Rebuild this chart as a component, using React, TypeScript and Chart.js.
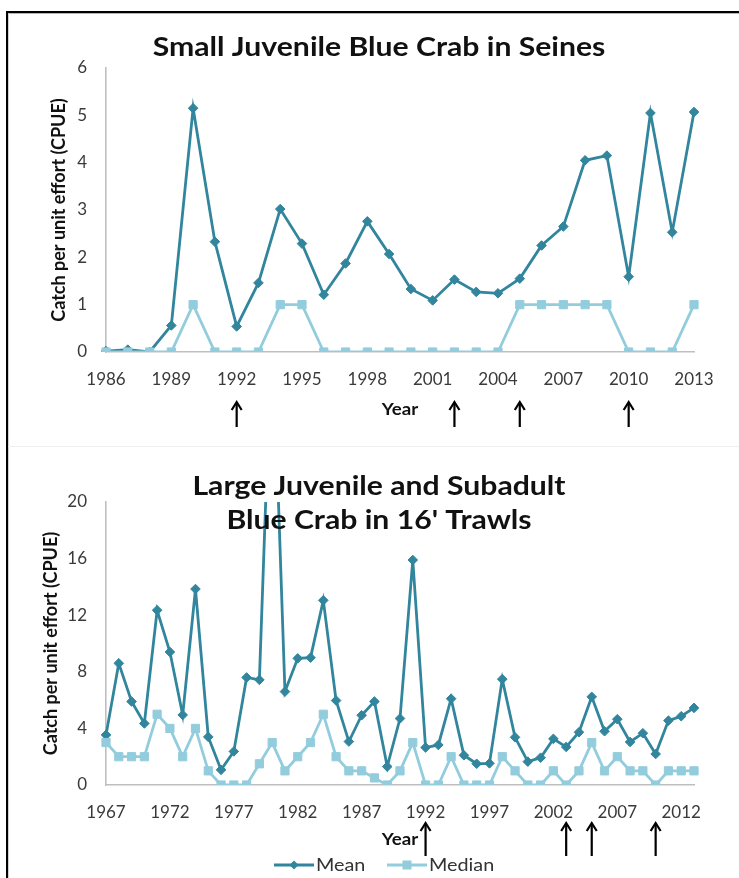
import { useEffect, useRef } from 'react';
import { Chart, registerables } from 'chart.js';

Chart.register(...registerables);

// ---- Small juvenile blue crab, seine survey ----
const seineYears = [
  '1986', '1987', '1988', '1989', '1990', '1991', '1992', '1993', '1994', '1995',
  '1996', '1997', '1998', '1999', '2000', '2001', '2002', '2003', '2004', '2005',
  '2006', '2007', '2008', '2009', '2010', '2011', '2012', '2013',
];
const seineMean = [
  0.02, 0.05, 0.0, 0.56, 5.15, 2.33, 0.54, 1.46, 3.02, 2.29,
  1.21, 1.87, 2.76, 2.07, 1.33, 1.09, 1.53, 1.27, 1.24, 1.55,
  2.25, 2.65, 4.05, 4.15, 1.59, 5.05, 2.53, 5.07,
];
const seineMedian = [
  0, 0, 0, 0, 1, 0, 0, 0, 1, 1,
  0, 0, 0, 0, 0, 0, 0, 0, 0, 1,
  1, 1, 1, 1, 0, 0, 0, 1,
];
const seineArrowYears = ['1992', '2002', '2005', '2010'];
const seineYTicks = { max: 6, step: 1 };

// ---- Large juvenile and subadult blue crab, 16' trawl survey ----
const trawlYears = [
  '1967', '1968', '1969', '1970', '1971', '1972', '1973', '1974', '1975', '1976',
  '1977', '1978', '1979', '1980', '1981', '1982', '1983', '1984', '1985', '1986',
  '1987', '1988', '1989', '1990', '1991', '1992', '1993', '1994', '1995', '1996',
  '1997', '1998', '1999', '2000', '2001', '2002', '2003', '2004', '2005', '2006',
  '2007', '2008', '2009', '2010', '2011', '2012', '2013',
];
const trawlMean = [
  3.54, 8.6, 5.9, 4.35, 12.35, 9.4, 4.95, 13.85, 3.4, 1.07,
  2.37, 7.6, 7.43, 33.0, 6.6, 8.95, 9.0, 13.05, 5.97, 3.07,
  4.93, 5.9, 1.3, 4.7, 15.9, 2.65, 2.83, 6.1, 2.1, 1.5,
  1.53, 7.48, 3.37, 1.65, 1.93, 3.26, 2.69, 3.73, 6.23, 3.8,
  4.65, 3.04, 3.66, 2.19, 4.55, 4.86, 5.45,
];
const trawlMedian = [
  3, 2, 2, 2, 5, 4, 2, 4, 1, 0,
  0, 0, 1.5, 3, 1, 2, 3, 5, 2, 1,
  1, 0.5, 0, 1, 3, 0, 0, 2, 0, 0,
  0, 2, 1, 0, 0, 1, 0, 1, 3, 1,
  2, 1, 1, 0, 1, 1, 1,
];
const trawlArrowYears = ['1992', '2003', '2005', '2010'];
const trawlYTicks = { max: 20, step: 4 };

const seriesNames = ['Mean', 'Median'];

const MEAN_COLOR = '#31859C';
const MEDIAN_COLOR = '#93CDDD';
const AXIS_COLOR = '#BFBFBF';
const TICK_COLOR = '#3a3a3a';
const FONT = 'Lato, "Open Sans", "DejaVu Sans", sans-serif';
const TEXT_STRETCH = 1.16;

function stretchedText(
  ctx: CanvasRenderingContext2D,
  text: string,
  x: number,
  y: number,
  font: string,
  color: string,
  sx: number,
  align: CanvasTextAlign = 'center',
) {
  ctx.save();
  ctx.font = font;
  ctx.fillStyle = color;
  ctx.textAlign = align;
  ctx.textBaseline = 'middle';
  ctx.translate(x, y);
  ctx.scale(sx, 1);
  ctx.fillText(text, 0, 0);
  ctx.restore();
}

function drawArrow(ctx: CanvasRenderingContext2D, x: number, top: number, bottom: number) {
  ctx.save();
  ctx.strokeStyle = '#000';
  ctx.lineWidth = 2.2;
  ctx.lineCap = 'butt';
  ctx.beginPath();
  ctx.moveTo(x, top + 1);
  ctx.lineTo(x, bottom);
  ctx.stroke();
  ctx.beginPath();
  ctx.moveTo(x - 5, top + 8);
  ctx.lineTo(x, top);
  ctx.lineTo(x + 5, top + 8);
  ctx.stroke();
  ctx.restore();
}

function drawDiamond(ctx: CanvasRenderingContext2D, x: number, y: number, r: number, color: string) {
  ctx.beginPath();
  ctx.moveTo(x, y - r);
  ctx.lineTo(x + r, y);
  ctx.lineTo(x, y + r);
  ctx.lineTo(x - r, y);
  ctx.closePath();
  ctx.fillStyle = color;
  ctx.fill();
}

type Decor = {
  years: string[];
  titleLines: string[];
  titleX: number;
  titleY: number[];
  yTitleX: number;
  xTitleY: number;
  arrowYears: string[];
  arrowTop: number;
  arrowBottom: number;
  legendY?: number;
  legendX?: number[];
};

function decorPlugin(d: Decor) {
  return {
    id: 'panelDecor',
    afterDraw(chart: any) {
      const ctx: CanvasRenderingContext2D = chart.ctx;
      const a = chart.chartArea;
      const xScale = chart.scales.x;

      d.titleLines.forEach((t, i) =>
        stretchedText(ctx, t, d.titleX, d.titleY[i], `bold 26px ${FONT}`, '#111', TEXT_STRETCH),
      );

      ctx.save();
      ctx.translate(d.yTitleX, (a.top + a.bottom) / 2);
      ctx.rotate(-Math.PI / 2);
      ctx.scale(1, 1.1);
      ctx.font = `bold 18px ${FONT}`;
      ctx.fillStyle = '#111';
      ctx.textAlign = 'center';
      ctx.textBaseline = 'middle';
      ctx.fillText('Catch per unit effort (CPUE)', 0, 0);
      ctx.restore();

      stretchedText(ctx, 'Year', (a.left + a.right) / 2, d.xTitleY, `bold 17px ${FONT}`, '#111', 1.1);

      d.arrowYears.forEach((yr) => {
        const px = xScale.getPixelForValue(d.years.indexOf(yr));
        drawArrow(ctx, px, d.arrowTop, d.arrowBottom);
      });

      if (d.legendY !== undefined && d.legendX) {
        const ly = d.legendY;
        const colors = [MEAN_COLOR, MEDIAN_COLOR];
        seriesNames.forEach((name, i) => {
          const x0 = d.legendX![i];
          ctx.save();
          ctx.strokeStyle = colors[i];
          ctx.lineWidth = 3;
          ctx.beginPath();
          ctx.moveTo(x0, ly);
          ctx.lineTo(x0 + 40, ly);
          ctx.stroke();
          if (i === 0) {
            drawDiamond(ctx, x0 + 20, ly, 4.5, colors[i]);
          } else {
            ctx.fillStyle = colors[i];
            ctx.fillRect(x0 + 15.5, ly - 4.5, 9, 9);
          }
          ctx.restore();
          stretchedText(ctx, name, x0 + 42, ly, `18px ${FONT}`, '#333', 1.1, 'left');
        });
      }
    },
  };
}

type PanelProps = {
  top: number;
  height: number;
  years: string[];
  mean: number[];
  median: number[];
  yMax: number;
  yStep: number;
  labelEvery: number;
  padBottom: number;
  padTop: number;
  decor: Decor;
};

function Panel({ top, height, years, mean, median, yMax, yStep, labelEvery, padBottom, padTop, decor }: PanelProps) {
  const ref = useRef<HTMLCanvasElement>(null);

  useEffect(() => {
    if (!ref.current) return;
    const tickFont = { family: FONT, size: 17 };
    const chart = new Chart(ref.current, {
      type: 'line',
      data: {
        labels: years,
        datasets: [
          {
            label: seriesNames[0],
            data: mean,
            borderColor: MEAN_COLOR,
            backgroundColor: MEAN_COLOR,
            borderWidth: 2.8,
            pointStyle: 'rectRot',
            pointRadius: 4.8,
            pointBorderWidth: 1,
            pointBackgroundColor: MEAN_COLOR,
            pointBorderColor: MEAN_COLOR,
            tension: 0,
            order: 1,
          },
          {
            label: seriesNames[1],
            data: median,
            borderColor: MEDIAN_COLOR,
            backgroundColor: MEDIAN_COLOR,
            borderWidth: 2.8,
            pointStyle: 'rect',
            pointRadius: 5.8,
            pointBorderWidth: 1,
            pointBackgroundColor: MEDIAN_COLOR,
            pointBorderColor: MEDIAN_COLOR,
            tension: 0,
            order: 0,
          },
        ],
      },
      options: {
        responsive: false,
        animation: false,
        devicePixelRatio: 1,
        events: [],
        layout: { padding: { left: 50, right: 45, top: padTop, bottom: padBottom } },
        plugins: {
          legend: { display: false },
          title: { display: false },
          tooltip: { enabled: false },
        },
        scales: {
          x: {
            type: 'category',
            offset: false,
            grid: { display: false, drawTicks: false },
            border: { display: true, color: AXIS_COLOR, width: 1.6 },
            ticks: {
              autoSkip: false,
              maxRotation: 0,
              minRotation: 0,
              padding: 17,
              color: TICK_COLOR,
              font: tickFont,
              callback: (_v: any, i: number) => (i % labelEvery === 0 ? years[i] : ''),
            },
            afterFit: (s: any) => {
              s.height = 40;
            },
          },
          y: {
            min: 0,
            max: yMax,
            grid: { display: false, drawTicks: false },
            border: { display: true, color: AXIS_COLOR, width: 1.6 },
            ticks: { stepSize: yStep, padding: 19, color: TICK_COLOR, font: tickFont },
            afterFit: (s: any) => {
              s.width = 56;
            },
          },
        },
      },
      plugins: [decorPlugin(decor)],
    } as any);
    return () => chart.destroy();
  }, []);

  return (
    <canvas
      ref={ref}
      width={739}
      height={height}
      style={{ position: 'absolute', left: 0, top, width: 739, height, display: 'block' }}
    />
  );
}

export default function App() {
  return (
    <div
      style={{
        position: 'absolute',
        left: 0,
        top: 0,
        width: 739,
        height: 878,
        background: '#fff',
        overflow: 'hidden',
      }}
    >
      <Panel
        top={0}
        height={445}
        years={seineYears}
        mean={seineMean}
        median={seineMedian}
        yMax={seineYTicks.max}
        yStep={seineYTicks.step}
        labelEvery={3}
        padTop={68}
        padBottom={53}
        decor={{
          years: seineYears,
          titleLines: ['Small Juvenile Blue Crab in Seines'],
          titleX: 379,
          titleY: [48],
          yTitleX: 59,
          xTitleY: 410,
          arrowYears: seineArrowYears,
          arrowTop: 402,
          arrowBottom: 427,
        }}
      />
      <Panel
        top={447}
        height={431}
        years={trawlYears}
        mean={trawlMean}
        median={trawlMedian}
        yMax={trawlYTicks.max}
        yStep={trawlYTicks.step}
        labelEvery={5}
        padTop={55}
        padBottom={53}
        decor={{
          years: trawlYears,
          titleLines: ['Large Juvenile and Subadult', "Blue Crab in 16' Trawls"],
          titleX: 379,
          titleY: [40, 74],
          yTitleX: 51,
          xTitleY: 393,
          arrowYears: trawlArrowYears,
          arrowTop: 376,
          arrowBottom: 409,
          legendY: 418,
          legendX: [274, 387],
        }}
      />
      {/* panel frame */}
      <div style={{ position: 'absolute', left: 6, top: 11, width: 733, height: 2, background: '#000' }} />
      <div style={{ position: 'absolute', left: 8, top: 13, width: 731, height: 1, background: '#b4b4b4' }} />
      <div style={{ position: 'absolute', left: 6, top: 11, width: 2, height: 867, background: '#000' }} />
      <div style={{ position: 'absolute', left: 8, top: 13, width: 1, height: 865, background: '#d0d0d0' }} />
      <div style={{ position: 'absolute', left: 8, top: 446, width: 731, height: 1, background: '#f0f0f0' }} />
    </div>
  );
}
